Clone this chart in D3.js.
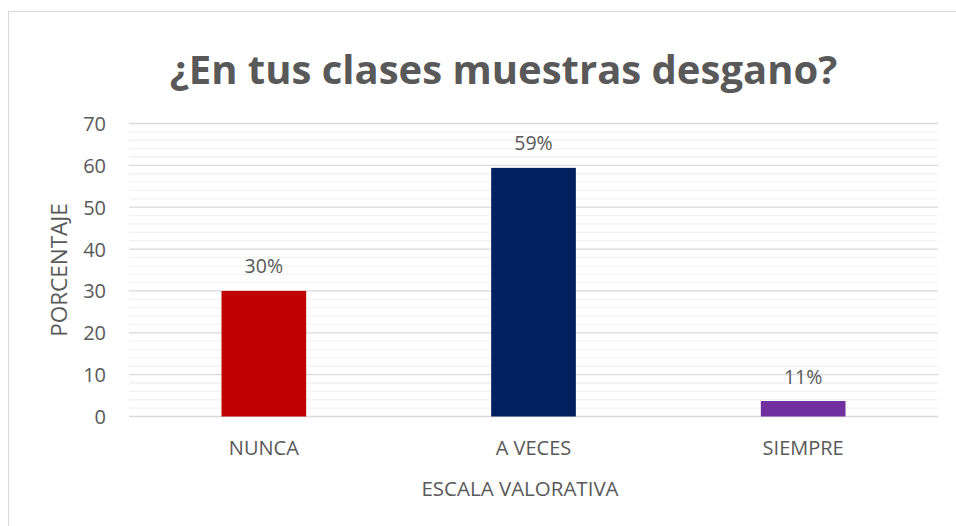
<!DOCTYPE html>
<html>
<head>
<meta charset="utf-8">
<script src="https://cdn.jsdelivr.net/npm/d3@7"></script>
<style>
  body { margin: 0; background: #fff; }
  text { font-family: "Open Sans", sans-serif; fill: #595959; }
</style>
</head>
<body>
<div id="chart"></div>
<script>
var categories = ['NUNCA', 'A VECES', 'SIEMPRE'];
var values = [30, 59.4, 3.7];
var valueLabels = ['30%', '59%', '11%'];
var barColors = ['#C00000', '#002060', '#7030A0'];
var yTicks = [0, 10, 20, 30, 40, 50, 60, 70];
var yMinorTicks = [2, 4, 6, 8, 12, 14, 16, 18, 22, 24, 26, 28, 32, 34, 36, 38,
                   42, 44, 46, 48, 52, 54, 56, 58, 62, 64, 66, 68];
var title = '¿En tus clases muestras desgano?';
var xTitle = 'ESCALA VALORATIVA';
var yTitle = 'PORCENTAJE';

// Chart Setup
var width = 956, height = 526;
var plot = { left: 129, right: 938, top: 123.5, bottom: 416.5 };

var svg = d3.select('#chart')
  .append('svg')
  .attr('width', width)
  .attr('height', height);

// outer frame
svg.append('rect')
  .attr('x', 8.5)
  .attr('y', 11.5)
  .attr('width', 960)
  .attr('height', 530)
  .attr('fill', 'none')
  .attr('stroke', '#D9D9D9')
  .attr('stroke-width', 1.2);

var xScale = d3.scaleBand()
  .domain(categories)
  .range([plot.left, plot.right])
  .paddingInner(0.686)
  .paddingOuter(0.343);

var yScale = d3.scaleLinear()
  .domain([0, 70])
  .range([plot.bottom, plot.top]);

// Gridlines
svg.selectAll('.minor')
  .data(yMinorTicks)
  .enter()
  .append('line')
  .attr('class', 'minor')
  .attr('x1', plot.left)
  .attr('x2', plot.right)
  .attr('y1', function(d) { return yScale(d); })
  .attr('y2', function(d) { return yScale(d); })
  .attr('stroke', '#F2F2F2')
  .attr('stroke-width', 1.3);

svg.selectAll('.major')
  .data(yTicks)
  .enter()
  .append('line')
  .attr('class', 'major')
  .attr('x1', plot.left)
  .attr('x2', plot.right)
  .attr('y1', function(d) { return yScale(d); })
  .attr('y2', function(d) { return yScale(d); })
  .attr('stroke', '#D9D9D9')
  .attr('stroke-width', 1.3);

// Y-Axis labels
var yAxis = d3.axisLeft(yScale)
  .tickValues(yTicks)
  .tickSize(0)
  .tickPadding(23);
var yg = svg.append('g')
  .attr('transform', 'translate(' + plot.left + ',0)')
  .call(yAxis);
yg.select('.domain').remove();
yg.selectAll('text')
  .style('font-size', '20px')
  .attr('fill', '#595959')
  .attr('dy', '0.35em');

// Bars
svg.selectAll('.bar')
  .data(values)
  .enter()
  .append('rect')
  .attr('class', 'bar')
  .attr('x', function(d, i) { return xScale(categories[i]); })
  .attr('y', function(d) { return yScale(d); })
  .attr('width', xScale.bandwidth())
  .attr('height', function(d) { return yScale(0) - yScale(d); })
  .attr('fill', function(d, i) { return barColors[i]; });

// Data labels
svg.selectAll('.value')
  .data(values)
  .enter()
  .append('text')
  .attr('class', 'value')
  .attr('x', function(d, i) { return xScale(categories[i]) + xScale.bandwidth() / 2; })
  .attr('y', function(d) { return yScale(d) - 17.5; })
  .attr('text-anchor', 'middle')
  .style('font-size', '19.5px')
  .text(function(d, i) { return valueLabels[i]; });

// X-Axis labels
var xAxis = d3.axisBottom(xScale)
  .tickSize(0)
  .tickPadding(0);
var xg = svg.append('g')
  .attr('transform', 'translate(0,' + plot.bottom + ')')
  .call(xAxis);
xg.select('.domain').remove();
xg.selectAll('text')
  .attr('y', 38.5)
  .attr('dy', '0')
  .style('font-size', '20px')
  .attr('fill', '#595959');

// Axis titles
svg.append('text')
  .attr('x', 520)
  .attr('y', 495.5)
  .attr('text-anchor', 'middle')
  .style('font-size', '20.5px')
  .text(xTitle);

svg.append('text')
  .attr('transform', 'translate(66.5,' + (plot.top + plot.bottom) / 2 + ') rotate(-90)')
  .attr('text-anchor', 'middle')
  .style('font-size', '22.5px')
  .text(yTitle);

// Title
svg.append('text')
  .attr('x', 503.5)
  .attr('y', 84)
  .attr('text-anchor', 'middle')
  .style('font-size', '40px')
  .style('font-weight', 'bold')
  .text(title);
</script>
</body>
</html>
